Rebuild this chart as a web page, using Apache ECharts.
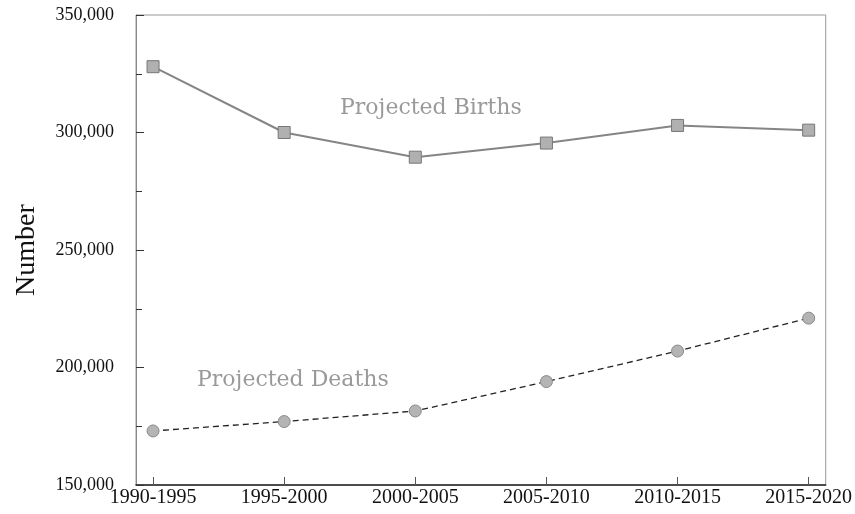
<!DOCTYPE html>
<html>
<head>
<meta charset="utf-8">
<script src="https://cdn.jsdelivr.net/npm/echarts@6/dist/echarts.min.js"></script>
<style>
  html, body { margin: 0; padding: 0; background: #fff; }
  #main { width: 855px; height: 514px; }
</style>
</head>
<body>
<div id="main"></div>
<script>
// periods on the x axis
const periods = ['1990-1995', '1995-2000', '2000-2005', '2005-2010', '2010-2015', '2015-2020']
// projected values
const births = [328000, 300000, 289500, 295500, 303000, 301000]
const deaths = [173000, 177000, 181500, 194000, 207000, 221000]
const yTicks = [150000, 200000, 250000, 300000, 350000]

const serif = '"Liberation Serif", "Times New Roman", serif'
const chart = echarts.init(document.getElementById('main'))

const fmt = v => v.toLocaleString('en-US')

chart.setOption({
  animation: false,
  grid: {
    left: 136, right: 27, top: 15, bottom: 29,
    show: true, borderColor: '#999', borderWidth: 1
  },
  xAxis: {
    type: 'value',
    min: -0.13,
    max: 5.13,
    splitLine: { show: false },
    axisLine: { onZero: false, lineStyle: { color: '#222', width: 1.5 } },
    axisTick: {
      inside: true, length: 8,
      customValues: periods.map((p, i) => i),
      lineStyle: { color: '#555' }
    },
    axisLabel: {
      customValues: periods.map((p, i) => i),
      formatter: v => periods[Math.round(v)],
      fontFamily: serif, fontSize: 20, color: '#111', margin: 3
    }
  },
  yAxis: {
    type: 'value',
    min: yTicks[0],
    max: yTicks[yTicks.length - 1],
    interval: 50000,
    name: 'Number',
    nameLocation: 'middle',
    nameGap: 95,
    nameTextStyle: { fontFamily: serif, fontSize: 28, color: '#111' },
    splitLine: { show: false },
    axisLine: { onZero: false, lineStyle: { color: '#888' } },
    axisTick: { inside: true, length: 8, lineStyle: { color: '#333' } },
    minorTick: { show: true, splitNumber: 2, length: 6, lineStyle: { color: '#333' } },
    axisLabel: {
      formatter: fmt,
      fontFamily: serif, fontSize: 18, color: '#111', margin: 22
    }
  },
  series: [
    {
      name: 'Projected Births',
      type: 'line',
      data: births.map((v, i) => [i, v]),
      symbol: 'rect',
      symbolSize: 12,
      itemStyle: { color: '#b0b0b0', borderColor: '#777', borderWidth: 1 },
      lineStyle: { color: '#858585', width: 2 }
    },
    {
      name: 'Projected Deaths',
      type: 'line',
      data: deaths.map((v, i) => [i, v]),
      symbol: 'circle',
      symbolSize: 12,
      itemStyle: { color: '#b4b4b4', borderColor: '#888', borderWidth: 1 },
      lineStyle: { color: '#222', width: 1.3, type: [6, 4] }
    }
  ],
  graphic: [
    {
      type: 'text', left: 340, top: 97,
      style: { text: 'Projected Births', font: '22px "DejaVu Serif", serif', fill: '#9a9a9a' }
    },
    {
      type: 'text', left: 197, top: 369,
      style: { text: 'Projected Deaths', font: '22px "DejaVu Serif", serif', fill: '#9a9a9a' }
    }
  ]
})
</script>
</body>
</html>
